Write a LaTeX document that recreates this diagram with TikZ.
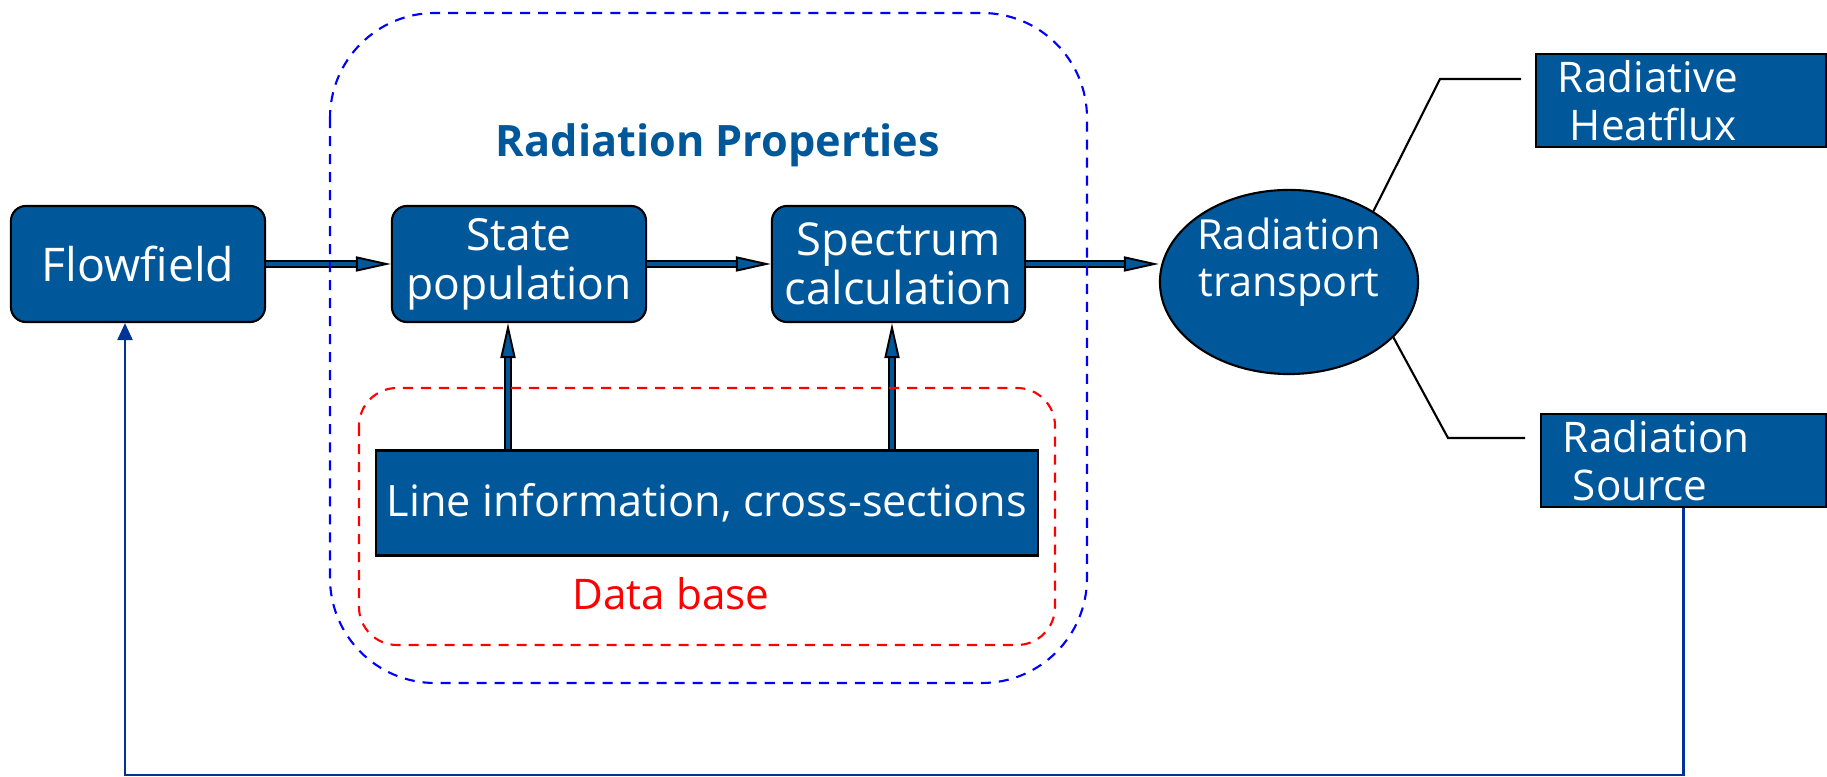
\documentclass[tikz,border=0pt]{standalone}
\usepackage{fontspec}
\setmainfont{Open Sans}
\usetikzlibrary{arrows.meta,shapes.geometric}
\definecolor{boxblue}{RGB}{0,88,154}
\definecolor{loopblue}{RGB}{0,51,153}
\definecolor{groupblue}{RGB}{0,0,255}
\definecolor{groupred}{RGB}{255,0,0}
\begin{document}
\begin{tikzpicture}[x=0.01cm, y=-0.01cm,
  every node/.style={font=\fontsize{12}{13.5}\selectfont},
  stepbox/.style={rectangle, rounded corners=0.15cm, draw=black, line width=0.6pt,
    fill=boxblue, text=white, align=center, inner sep=0pt,
    minimum width=2.54cm, minimum height=1.16cm, font=\fontsize{12.6}{14}\selectfont},
  databox/.style={rectangle, draw=black, line width=0.6pt, fill=boxblue,
    text=white, inner sep=0pt},
  outbox/.style={rectangle, draw=black, line width=0.6pt, fill=boxblue,
    text=white, align=left, inner xsep=0.22cm, inner ysep=0pt, minimum height=0.93cm},
  solver/.style={ellipse, draw=black, line width=0.6pt, fill=boxblue, inner sep=0pt,
    minimum width=2.58cm, minimum height=1.84cm},
  fat/.style={draw=black, line width=0.55pt, double=boxblue, double distance=1.2pt,
    -{Triangle[length=0.35cm, width=0.15cm, fill=boxblue, line width=0.55pt]}},
  link/.style={draw=black, line width=0.6pt},
  loop/.style={draw=loopblue, line width=0.7pt,
    -{Triangle[length=0.17cm, width=0.15cm, fill=loopblue]}},
  group/.style={line width=0.6pt, dash pattern=on 0.10cm off 0.08cm}
]
\useasboundingbox (0,0) rectangle (1827,777);

% processing chain
\node[stepbox, font=\fontsize{13.2}{14}\selectfont] (flow) at (138,264) {Flowfield};
\node[stepbox] (state) at (519,264) {State\\population};
\node[stepbox, minimum width=2.53cm, font=\fontsize{12.9}{14}\selectfont] (spec) at (898.5,264) {Spectrum\\calculation};
\node[solver] (rt) at (1289,282) {};
\node[text=white, align=center, font=\fontsize{11.8}{13.5}\selectfont] (rtlabel) at (1289,262) {Radiation\\transport};

% data base entry
\node[databox, minimum width=6.62cm, minimum height=1.05cm, font=\fontsize{12.3}{14}\selectfont]
  (lines) at (707,503) {Line information, cross-sections};

% results
\node[outbox, text width=2.46cm] (heat) at (1681,100.5) {Radiative\\\hspace*{0.12cm}Heatflux};
\node[outbox, text width=2.41cm] (source) at (1683.5,460.5) {Radiation\\\hspace*{0.10cm}Source};

% group titles
\node[anchor=base, text=boxblue, font=\fontsize{12.3}{14}\selectfont\bfseries] (proptitle) at (718,157) {Radiation Properties};
\node[anchor=base, text=groupred] (dbtitle) at (671,610) {Data base};

% main flow arrows
\draw[fat] (flow.east) -- (state.west);
\draw[fat] (state.east) -- (spec.west);
\draw[fat] (spec.east) -- (spec.east -| rt.west);
\draw[fat] ([xshift=-0.11cm]state.south |- lines.north) -- ([xshift=-0.11cm]state.south);
\draw[fat] ([xshift=-0.065cm]spec.south |- lines.north) -- ([xshift=-0.065cm]spec.south);

% outputs of the transport solver
\coordinate (hk) at (1440,79);
\coordinate (hend) at (1521,79);
\coordinate (sk) at (1448,438);
\coordinate (send) at (1525,438);
\draw[link] (rt.40) -- (hk) -- (hend);
\draw[link] (rt.-28) -- (sk) -- (send);

% coupling back to the flowfield
\coordinate (loopL) at (125,775);
\draw[loop] (source.south) |- (loopL) -- (loopL |- flow.south);

% groups
\draw[group, draw=groupblue, rounded corners=1.05cm] (330,13) rectangle (1087,683);
\draw[group, draw=groupred, rounded corners=0.38cm] (359,388) rectangle (1055,645);
\end{tikzpicture}
\end{document}
